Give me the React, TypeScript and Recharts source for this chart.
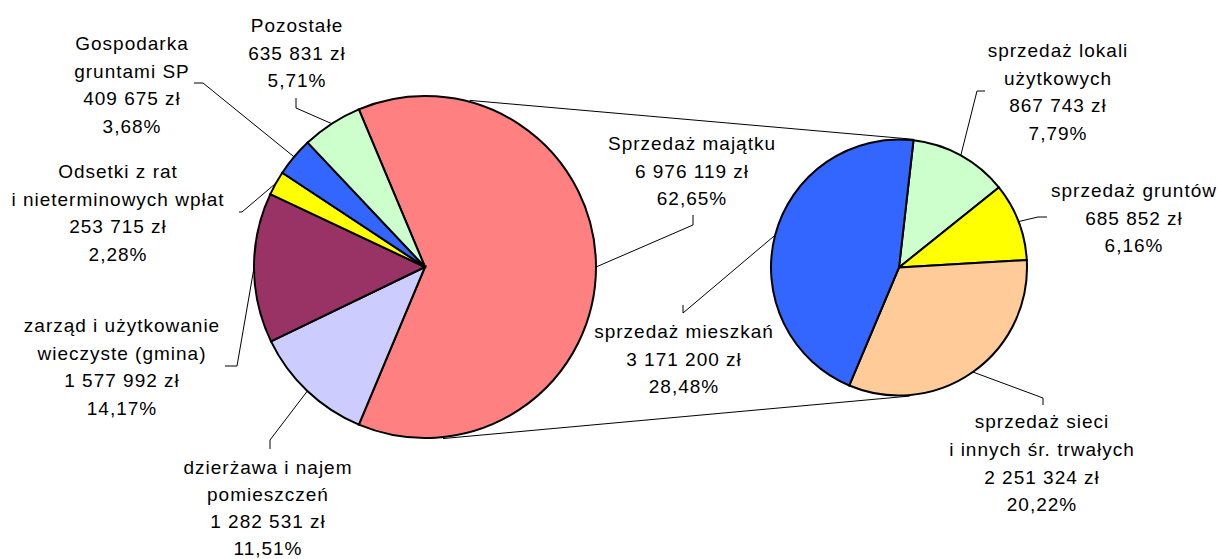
import React from 'react';
import { PieChart, Pie, Cell } from 'recharts';

// ---- data ----
const mainCategories = [
  'Sprzedaż majątku',
  'dzierżawa i najem\npomieszczeń',
  'zarząd i użytkowanie\nwieczyste (gmina)',
  'Odsetki z rat\ni nieterminowych wpłat',
  'Gospodarka\ngruntami SP',
  'Pozostałe',
];
const mainValues = [6976119, 1282531, 1577992, 253715, 409675, 635831];
const mainPercents = ['62,65%', '11,51%', '14,17%', '2,28%', '3,68%', '5,71%'];
const mainColors = ['#FF8080', '#CCCCFF', '#993366', '#FFFF00', '#3366FF', '#CCFFCC'];

const subCategories = [
  'sprzedaż lokali\nużytkowych',
  'sprzedaż gruntów',
  'sprzedaż sieci\ni innych śr. trwałych',
  'sprzedaż mieszkań',
];
const subValues = [867743, 685852, 2251324, 3171200];
const subPercents = ['7,79%', '6,16%', '20,22%', '28,48%'];
const subColors = ['#CCFFCC', '#FFFF00', '#FFCC99', '#3366FF'];

const mainData = mainCategories.map((name, i) => ({ name, value: mainValues[i] }));
const subData = subCategories.map((name, i) => ({ name, value: subValues[i] }));

// ---- layout ----
const W = 1220;
const H = 559;
const MAIN = { cx: 425, cy: 267, r: 171 };
const SUB = { cx: 899, cy: 267.5, r: 128 };
const mainTotal = mainValues.reduce((a, b) => a + b, 0);
const mainStart = (mainValues[0] / mainTotal) * 180;
const subStart = 83.5;

const FONT = { fontFamily: '"Liberation Sans", Arial, sans-serif', fontSize: 19, letterSpacing: 1.0 };
const LINE_H = 27.5;

type Lay = { tx: number; ty: number; lh?: number; path: number[][] };
const mainLayout: Lay[] = [
  { tx: 692, ty: 150, path: [[693, 225], [693, 215]] },
  { tx: 268, ty: 474, lh: 27.1, path: [[270, 440], [270, 449]] },
  { tx: 122, ty: 332, path: [[237, 366], [225, 366]] },
  { tx: 118, ty: 178, path: [[242, 212], [239, 212]] },
  { tx: 132, ty: 50, path: [[203, 83], [194, 83]] },
  { tx: 297, ty: 32, path: [[296, 108], [296, 98]] },
];
const subLayout: Lay[] = [
  { tx: 1058, ty: 57, path: [[977, 91], [985, 91]] },
  { tx: 1134, ty: 197, path: [[1038, 217], [1047, 217]] },
  { tx: 1042, ty: 428, lh: 27.8, path: [[1043, 398], [1043, 405]] },
  { tx: 684, ty: 338, path: [[683, 313], [683, 305]] },
];
// connector angles (deg, counter-clockwise from 3 o'clock)
const CONN = { mainTop: 75, mainBottom: -84, subTop: 83.6, subBottom: -85.2 };

const RAD = Math.PI / 180;
const fmt = (v: number) => String(v).replace(/\B(?=(\d{3})+(?!\d))/g, ' ') + ' zł';
const pt = (cx: number, cy: number, r: number, deg: number) => [cx + r * Math.cos(-deg * RAD), cy + r * Math.sin(-deg * RAD)];

const makeLabel = (cats: string[], vals: number[], pcts: string[], layout: Lay[], withConnectors: boolean) =>
  (props: any) => {
    const { cx, cy, midAngle, outerRadius, index } = props;
    const lay = layout[index];
    const start = pt(cx, cy, outerRadius, midAngle);
    const pts = [start, ...lay.path];
    const d = pts.map((p, i) => (i === 0 ? 'M' : 'L') + p[0].toFixed(1) + ',' + p[1].toFixed(1)).join(' ');
    const lines = [...cats[index].split('\n'), fmt(vals[index]), pcts[index]];
    const lh = lay.lh ?? LINE_H;
    let conn = null;
    if (withConnectors && index === 0) {
      const a1 = pt(MAIN.cx, MAIN.cy, MAIN.r + 1.5, CONN.mainTop);
      const b1 = pt(SUB.cx, SUB.cy, SUB.r + 1, CONN.subTop);
      const a2 = pt(MAIN.cx, MAIN.cy, MAIN.r + 1.5, CONN.mainBottom);
      const b2 = pt(SUB.cx, SUB.cy, SUB.r + 1, CONN.subBottom);
      conn = (
        <g>
          <line x1={a1[0]} y1={a1[1]} x2={b1[0]} y2={b1[1]} stroke="#000" strokeWidth={1} />
          <line x1={a2[0]} y1={a2[1]} x2={b2[0]} y2={b2[1]} stroke="#000" strokeWidth={1} />
        </g>
      );
    }
    return (
      <g key={'lbl' + index}>
        {conn}
        <path d={d} fill="none" stroke="#000" strokeWidth={1} />
        {lines.map((t, i) => (
          <text
            key={i}
            x={lay.tx}
            y={lay.ty + i * lh}
            textAnchor="middle"
            fill="#000"
            style={FONT as any}
          >
            {t}
          </text>
        ))}
      </g>
    );
  };

export default function App() {
  return (
    <div style={{ position: 'absolute', left: 0, top: 0, width: W, height: H, background: '#fff' }}>
      <PieChart width={W} height={H} margin={{ top: 0, right: 0, bottom: 0, left: 0 }}>
        <Pie
          data={mainData}
          dataKey="value"
          cx={MAIN.cx}
          cy={MAIN.cy}
          outerRadius={MAIN.r}
          startAngle={mainStart}
          endAngle={mainStart - 360}
          stroke="#000"
          strokeWidth={2}
          isAnimationActive={false}
          labelLine={false}
          label={makeLabel(mainCategories, mainValues, mainPercents, mainLayout, true)}
        >
          {mainData.map((_, i) => (
            <Cell key={i} fill={mainColors[i]} />
          ))}
        </Pie>
        <Pie
          data={subData}
          dataKey="value"
          cx={SUB.cx}
          cy={SUB.cy}
          outerRadius={SUB.r}
          startAngle={subStart}
          endAngle={subStart - 360}
          stroke="#000"
          strokeWidth={2}
          isAnimationActive={false}
          labelLine={false}
          label={makeLabel(subCategories, subValues, subPercents, subLayout, false)}
        >
          {subData.map((_, i) => (
            <Cell key={i} fill={subColors[i]} />
          ))}
        </Pie>
      </PieChart>
    </div>
  );
}
